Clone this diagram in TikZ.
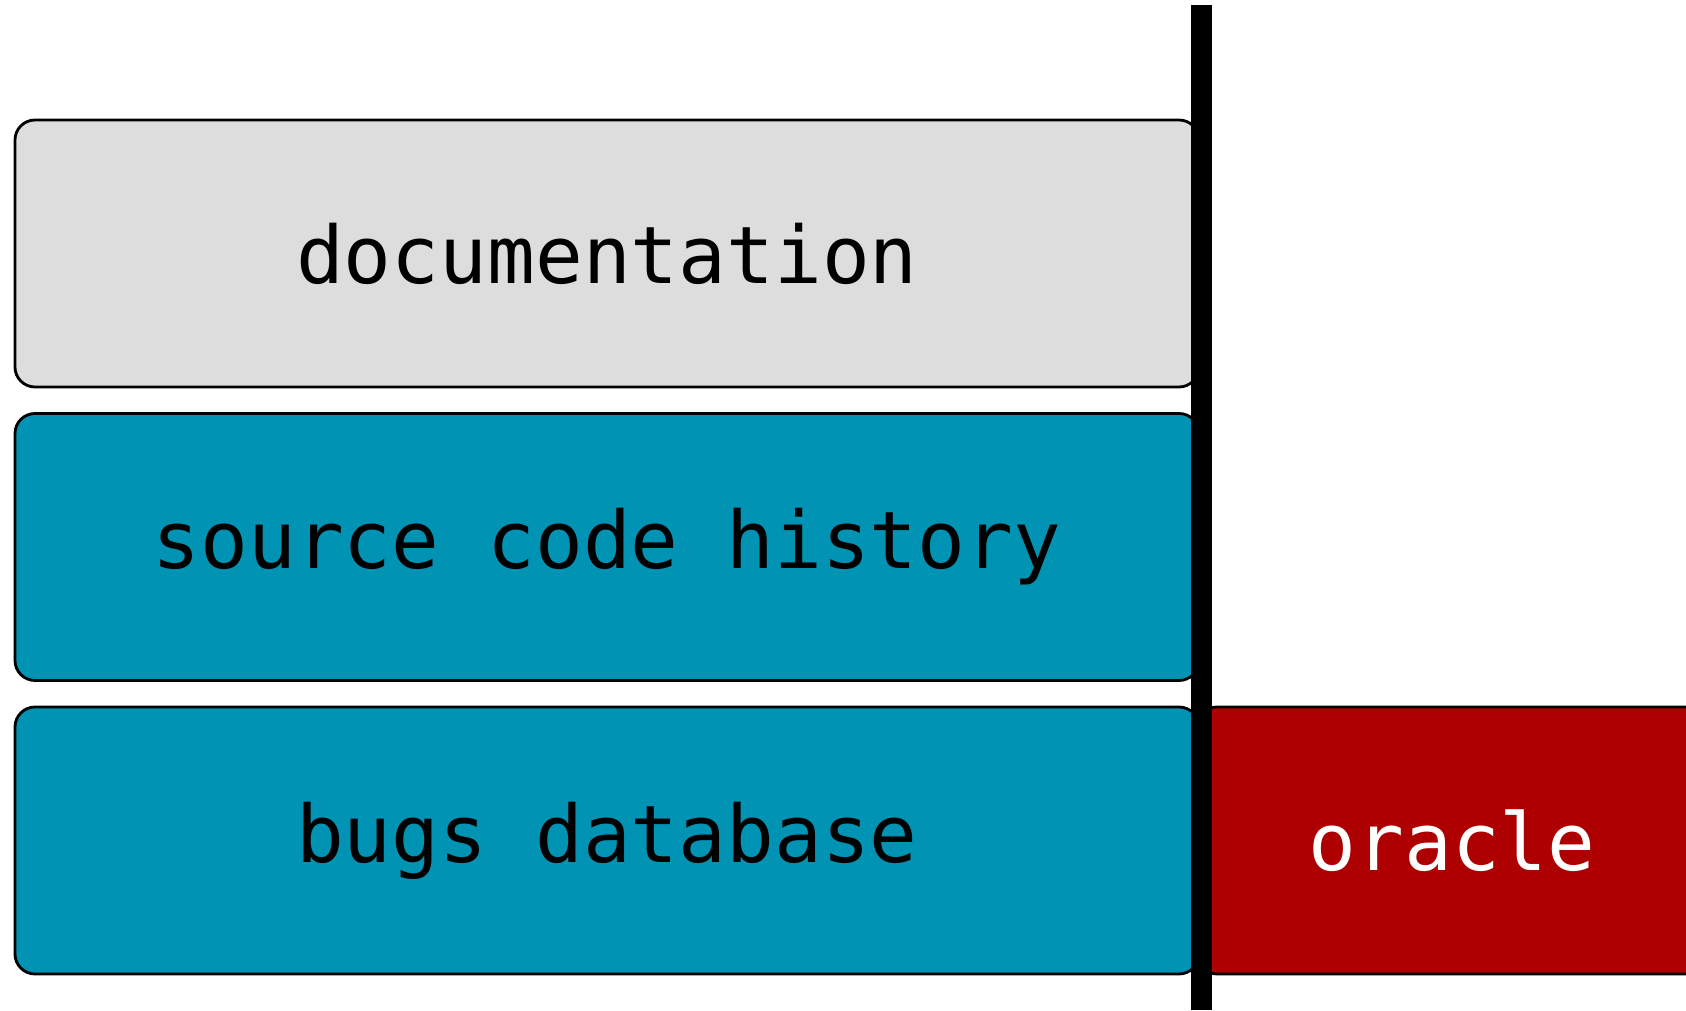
\documentclass[tikz,border=0pt]{standalone}
\usepackage{fontspec}
\setmonofont{DejaVu Sans Mono}
\usepackage{tikz}

\definecolor{docgray}{HTML}{DDDDDD}
\definecolor{srcteal}{HTML}{0093B4}
\definecolor{oraclered}{HTML}{AE0000}

\begin{document}
\begin{tikzpicture}[
    layer/.style={draw=black, line width=0.8pt, rounded corners=0.2cm,
      minimum height=2.67cm, inner sep=0pt,
      font=\ttfamily\fontsize{22.6}{26}\selectfont},
    knownbox/.style={layer, minimum width=11.84cm},
  ]
  \useasboundingbox (0,0) rectangle (16.86,10.10);

  % bekannte Quellen
  \node[knownbox, fill=docgray]  (doc)  at (6.07,7.565) {documentation};
  \node[knownbox, fill=srcteal]  (src)  at (6.07,4.63)  {source code history};
  \node[knownbox, fill=srcteal]  (bugs) at (6.07,1.695) {bugs database};

  % Orakel rechts
  \node[layer, fill=oraclered, text=white, minimum width=5.1cm] (oracle) at (14.52,1.695) {oracle};

  % Trennlinie
  \coordinate (top) at (12.015,10.05);
  \coordinate (bot) at (12.015,0);
  \draw[line width=0.21cm] (top) -- (bot);
\end{tikzpicture}
\end{document}
